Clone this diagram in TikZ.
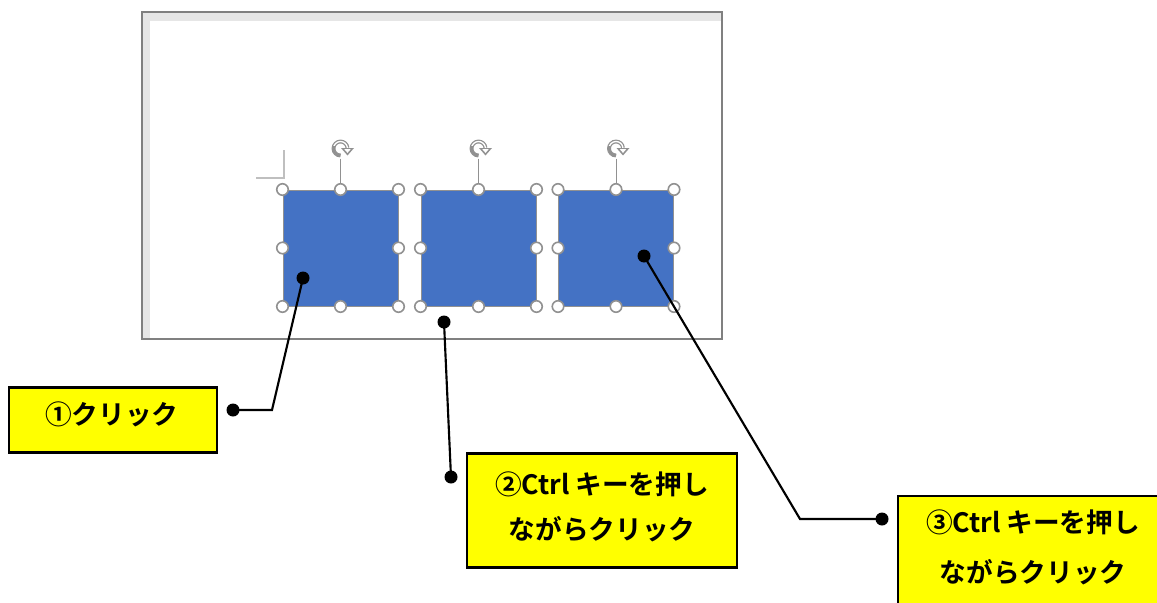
\documentclass[tikz,border=0pt]{standalone}
\usepackage{fontspec}
\newfontfamily\jp{Noto Sans CJK JP}[BoldFont={Noto Sans CJK JP Bold}]
\usetikzlibrary{arrows.meta}
\definecolor{framegray}{RGB}{128,128,128}
\definecolor{bandgray}{RGB}{230,230,230}
\definecolor{shapeblue}{RGB}{68,114,196}
\definecolor{handlegray}{RGB}{145,145,145}
\definecolor{notey}{RGB}{255,255,0}
\tikzset{
  shapebox/.style={draw=handlegray, line width=0.75pt, fill=shapeblue, minimum width=115*0.75pt, minimum height=116*0.75pt, inner sep=0pt},
  handle/.style={circle, draw=handlegray, fill=white, line width=1.2pt, minimum size=11.5*0.75pt, inner sep=0pt},
  dotnode/.style={circle, fill=black, minimum size=13*0.75pt, inner sep=0pt},
  conn/.style={line width=1.6pt, black},
  notebox/.style={draw=black, line width=1.6pt, fill=notey, inner sep=0pt},
  notetext/.style={font=\jp\bfseries\fontsize{20pt}{34pt}\selectfont, align=center, inner sep=0pt},
  rotline/.style={handlegray, line width=0.75pt},
}
\begin{document}
\begin{tikzpicture}[x=0.75pt,y=-0.75pt]
\useasboundingbox (0,0) rectangle (1157,603);
% window frame
\fill[bandgray] (143,13) rectangle (722,21);
\fill[bandgray] (143,13) rectangle (150,339);
\draw[framegray, line width=1.5pt] (142,12) rectangle (722,339);
% corner mark
\draw[black!25, line width=0.8pt] (256,178) -- (284,178) -- (284,150);
% shapes
\node[shapebox] (s1) at (340.5,248) {};
\node[shapebox] (s2) at (478.5,248) {};
\node[shapebox] (s3) at (616,248) {};
\foreach \s in {s1,s2,s3}{
  \path (\s.north) ++(0,-31) coordinate (\s-rb);
  \draw[rotline] (\s-rb) -- (\s.north);
  \path (\s.north) ++(0,-41) coordinate (\s-rc);
  \draw[handlegray, line width=2.9pt] (\s-rc) ++(0,7) arc[start angle=90, end angle=355, radius=7];
  \draw[white, line width=1.0pt] (\s-rc) ++(0,7) arc[start angle=90, end angle=355, radius=7];
  \draw[handlegray, line width=1.8pt] (\s-rc) ++(0,7) arc[start angle=90, end angle=200, radius=7];
  \fill[handlegray] (\s-rc) ++(0.5,-0.5) -- ++(13,0) -- ++(-6.5,7.5) -- cycle;
  \fill[white] (\s-rc) ++(3.8,0.7) -- ++(6.4,0) -- ++(-3.2,3.7) -- cycle;
  \foreach \a/\n in {north west/1,north/2,north east/3,west/4,east/5,south west/6,south/7,south east/8}{
    \node[handle] (\s-h\n) at (\s.\a) {};
  }
}
% connector dots
\node[dotnode] (d1a) at (303,278) {};
\node[dotnode] (d1b) at (233,410) {};
\coordinate (b1) at (272,410);
\node[dotnode] (d2a) at (444,322) {};
\node[dotnode] (d2b) at (451,477) {};
\node[dotnode] (d3a) at (644,256) {};
\node[dotnode] (d3b) at (882,519) {};
\coordinate (b3) at (800,519);
\draw[conn] (d1a.center) -- (b1) -- (d1b.center);
\draw[conn] (d2a.center) -- (d2b.center);
\draw[conn] (d3a.center) -- (b3) -- (d3b.center);
% note boxes
\node[notebox, minimum width=208*0.75pt, minimum height=65*0.75pt] (n1) at (113,420) {};
\node[notetext] (t1) at (112,414) {①クリック};
\node[notebox, minimum width=270*0.75pt, minimum height=114*0.75pt] (n2) at (602,510.5) {};
\node[notetext] (t2) at (602,507) {②Ctrl キーを押し\\ながらクリック};
\node[notebox, minimum width=280*0.75pt, minimum height=130*0.75pt, anchor=north west] (n3) at (897,495) {};
\node[notetext, font=\jp\bfseries\fontsize{20pt}{37.5pt}\selectfont] (t3) at (1033,547) {③Ctrl キーを押し\\ながらクリック};
\end{tikzpicture}
\end{document}
